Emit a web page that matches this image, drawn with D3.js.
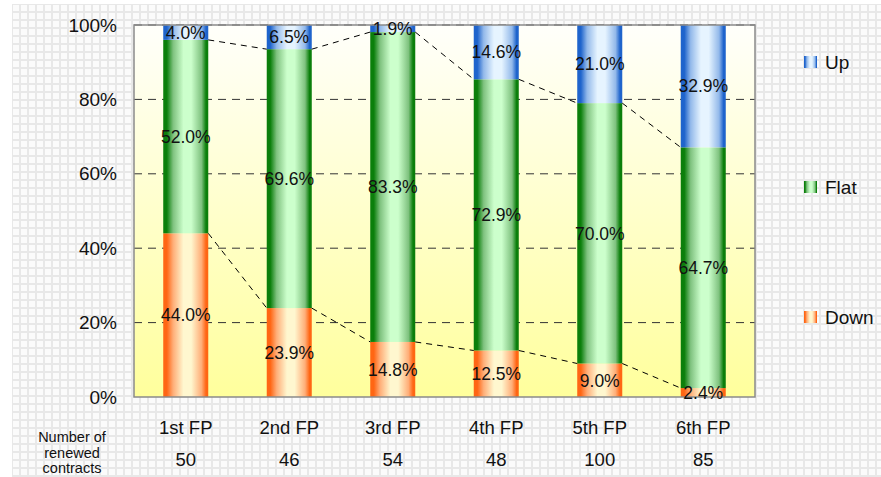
<!DOCTYPE html>
<html>
<head>
<meta charset="utf-8">
<script src="https://cdn.jsdelivr.net/npm/d3@7"></script>
<style>
  html, body { margin: 0; padding: 0; background: #fff; }
  svg { display: block; font-family: "Liberation Sans", Arial, sans-serif; }
</style>
</head>
<body>
<svg id="chart" width="881" height="477"></svg>
<script>
// Share of renewed contracts by price change, per funding period
const categories = ["1st FP", "2nd FP", "3rd FP", "4th FP", "5th FP", "6th FP"];
const renewedCounts = ["50", "46", "54", "48", "100", "85"];
const downValues = [44.0, 23.9, 14.8, 12.5, 9.0, 2.4];
const flatValues = [52.0, 69.6, 83.3, 72.9, 70.0, 64.7];
const upValues = [4.0, 6.5, 1.9, 14.6, 21.0, 32.9];
const yTicks = [0, 20, 40, 60, 80, 100];
const seriesNames = ["Down", "Flat", "Up"];

const svg = d3.select("#chart");
const W = 881, H = 477;
const plot = { left: 134, right: 755, top: 25, bottom: 397 };

const defs = svg.append("defs");

// Light tiled backdrop
const pat = defs.append("pattern").attr("id", "tile")
  .attr("patternUnits", "userSpaceOnUse")
  .attr("x", 12).attr("y", 4).attr("width", 8).attr("height", 8);
pat.append("rect").attr("width", 8).attr("height", 8).attr("fill", "#e8e8e8");
pat.append("rect").attr("x", 1).attr("y", 1).attr("width", 6).attr("height", 6).attr("fill", "#fbfbfb");
svg.append("rect").attr("x", 12).attr("y", 4).attr("width", W - 12).attr("height", H - 4).attr("fill", "url(#tile)");

// Plot area fill: white fading to pale yellow
const bg = defs.append("linearGradient").attr("id", "plotBg")
  .attr("x1", 0).attr("y1", 0).attr("x2", 0).attr("y2", 1);
bg.append("stop").attr("offset", "0%").attr("stop-color", "#fffffb");
bg.append("stop").attr("offset", "100%").attr("stop-color", "#ffff9c");

// Horizontal gradients for the bar segments
function barGradient(id, edge, mid, light) {
  const g = defs.append("linearGradient").attr("id", id)
    .attr("x1", 0).attr("y1", 0).attr("x2", 1).attr("y2", 0);
  g.append("stop").attr("offset", "0%").attr("stop-color", edge);
  g.append("stop").attr("offset", "8%").attr("stop-color", edge);
  g.append("stop").attr("offset", "22%").attr("stop-color", mid);
  g.append("stop").attr("offset", "45%").attr("stop-color", light);
  g.append("stop").attr("offset", "62%").attr("stop-color", light);
  g.append("stop").attr("offset", "85%").attr("stop-color", mid);
  g.append("stop").attr("offset", "95%").attr("stop-color", edge);
  g.append("stop").attr("offset", "100%").attr("stop-color", edge);
}
barGradient("gDown", "#ff6614", "#ffae78", "#fff7cf");
barGradient("gFlat", "#0b7f0b", "#7fc27f", "#ccffcc");
barGradient("gUp", "#1f64cc", "#93b9ea", "#e6f4ff");
const fills = { Down: "url(#gDown)", Flat: "url(#gFlat)", Up: "url(#gUp)" };

const x = d3.scaleBand().domain(categories)
  .range([plot.left, plot.right]).paddingInner(0.565).paddingOuter(0.2825);
const y = d3.scaleLinear().domain([0, 100]).range([plot.bottom, plot.top]);

svg.append("rect")
  .attr("x", plot.left).attr("y", plot.top)
  .attr("width", plot.right - plot.left).attr("height", plot.bottom - plot.top)
  .attr("fill", "url(#plotBg)");

// Dashed gridlines
svg.append("g").selectAll("line").data(yTicks.filter(t => t > 0)).join("line")
  .attr("x1", plot.left).attr("x2", plot.right)
  .attr("y1", d => y(d)).attr("y2", d => y(d))
  .attr("stroke", "#333").attr("stroke-width", 1)
  .attr("stroke-dasharray", "8,6");

// Stack the three series
const rows = categories.map((c, i) => ({ cat: c, Down: downValues[i], Flat: flatValues[i], Up: upValues[i] }));
const stacked = d3.stack().keys(seriesNames)(rows);

const layers = svg.append("g").selectAll("g").data(stacked).join("g")
  .attr("fill", d => fills[d.key]);
layers.selectAll("rect").data(d => d).join("rect")
  .attr("x", d => x(d.data.cat))
  .attr("width", x.bandwidth())
  .attr("y", d => y(d[1]))
  .attr("height", d => y(d[0]) - y(d[1]));

// Dashed series lines joining segment tops between neighbouring bars
[stacked[0], stacked[1]].forEach(layer => {
  for (let i = 0; i < layer.length - 1; i++) {
    svg.append("line")
      .attr("x1", x(categories[i]) + x.bandwidth())
      .attr("y1", y(layer[i][1]))
      .attr("x2", x(categories[i + 1]))
      .attr("y2", y(layer[i + 1][1]))
      .attr("stroke", "#000").attr("stroke-width", 1)
      .attr("stroke-dasharray", "6,5");
  }
});

// Plot border
svg.append("rect")
  .attr("x", plot.left).attr("y", plot.top)
  .attr("width", plot.right - plot.left).attr("height", plot.bottom - plot.top)
  .attr("fill", "none").attr("stroke", "#8a8a8a").attr("stroke-width", 1.5);

// Value labels
stacked.forEach(layer => {
  svg.append("g").selectAll("text").data(layer).join("text")
    .attr("x", d => x(d.data.cat) + x.bandwidth() / 2)
    .attr("y", d => (y(d[0]) + y(d[1])) / 2)
    .attr("dy", "0.36em")
    .attr("text-anchor", "middle")
    .attr("font-size", 17.5).attr("fill", "#111")
    .text(d => d.data[layer.key].toFixed(1) + "%");
});

// Y axis tick labels
const yAxis = d3.axisLeft(y).tickValues(yTicks).tickFormat(d => d + "%").tickSize(0).tickPadding(17);
const yg = svg.append("g").attr("transform", `translate(${plot.left},0)`).call(yAxis);
yg.select(".domain").remove();
yg.selectAll("text").attr("font-size", 19).attr("fill", "#111")
  .attr("font-family", "Liberation Sans, Arial, sans-serif");

// Category labels and renewed contract counts
const xAxis = d3.axisBottom(x).tickSize(0).tickPadding(0);
const xg = svg.append("g").attr("transform", `translate(0,427)`).call(xAxis);
xg.select(".domain").remove();
xg.selectAll("text").attr("font-size", 18.5).attr("fill", "#111")
  .attr("font-family", "Liberation Sans, Arial, sans-serif")
  .attr("y", 0).attr("dy", "0.36em");

svg.append("g").selectAll("text").data(categories).join("text")
  .attr("x", d => x(d) + x.bandwidth() / 2)
  .attr("y", 459).attr("dy", "0.36em")
  .attr("text-anchor", "middle").attr("font-size", 18.5).attr("fill", "#111")
  .text((d, i) => renewedCounts[i]);

const note = svg.append("text").attr("text-anchor", "middle").attr("font-size", 14.5).attr("fill", "#111");
["Number of", "renewed", "contracts"].forEach((t, i) => {
  note.append("tspan").attr("x", 72).attr("y", 437 + i * 15.5).attr("dy", "0.36em").text(t);
});

// Legend
const legendY = { Up: 62, Flat: 187, Down: 317 };
const lg = svg.append("g").selectAll("g").data(["Up", "Flat", "Down"]).join("g")
  .attr("transform", d => `translate(804,${legendY[d]})`);
lg.append("rect").attr("x", 0).attr("y", -6).attr("width", 13).attr("height", 12)
  .attr("fill", d => fills[d]);
lg.append("text").attr("x", 21).attr("dy", "0.36em").attr("font-size", 19).attr("fill", "#111")
  .text(d => d);
</script>
</body>
</html>
